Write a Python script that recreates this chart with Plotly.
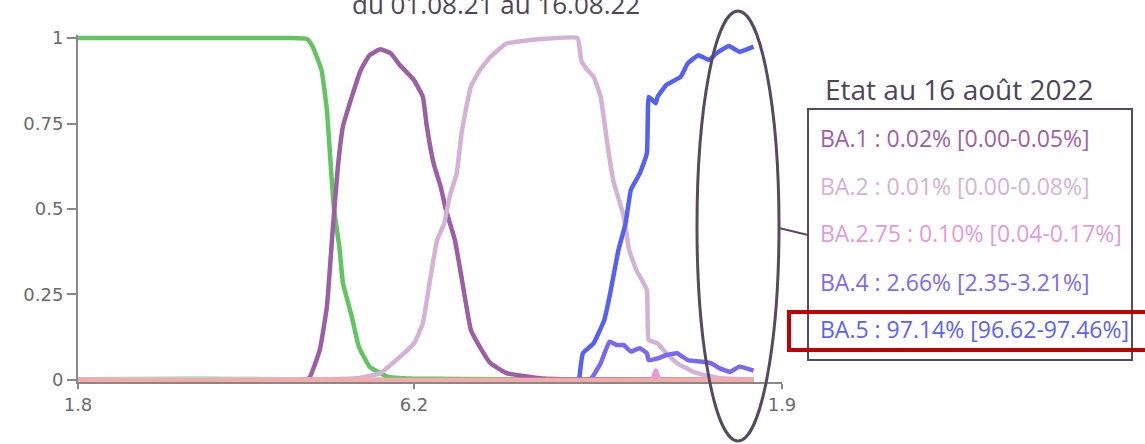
import plotly.graph_objects as go

# ---------------- data ----------------
delta_dates = ["2021-08-01", "2021-09-10", "2021-10-25", "2021-11-28", "2021-12-08", "2021-12-11",
               "2021-12-16", "2021-12-19", "2021-12-21", "2021-12-23", "2021-12-26", "2021-12-28",
               "2022-01-02", "2022-01-06", "2022-01-12", "2022-01-22", "2022-02-05", "2022-03-29",
               "2022-08-16"]
delta_vals = [1.0, 1.0, 1.0, 1.0, 0.997, 0.975,
              0.906, 0.79, 0.64, 0.50, 0.39, 0.285,
              0.185, 0.097, 0.039, 0.01, 0.004, 0.002,
              0.0]

ba1_dates = ["2021-08-01", "2021-12-04", "2021-12-09", "2021-12-15", "2021-12-19", "2021-12-22",
             "2021-12-25", "2021-12-28", "2022-01-02", "2022-01-07", "2022-01-12", "2022-01-18",
             "2022-01-24", "2022-01-29", "2022-02-06", "2022-02-11", "2022-02-13", "2022-02-17",
             "2022-02-21", "2022-02-24", "2022-03-01", "2022-03-05", "2022-03-10", "2022-03-15",
             "2022-03-21", "2022-03-30", "2022-04-18", "2022-05-10", "2022-08-16"]
ba1_vals = [0.0, 0.0, 0.005, 0.088, 0.214, 0.419,
            0.614, 0.741, 0.828, 0.906, 0.95, 0.967,
            0.955, 0.921, 0.877, 0.828, 0.75, 0.634,
            0.565, 0.497, 0.409, 0.292, 0.146, 0.097,
            0.049, 0.02, 0.005, 0.001, 0.0002]

ba2_dates = ["2021-08-01", "2022-01-05", "2022-01-18", "2022-01-27", "2022-02-06", "2022-02-11",
             "2022-02-15", "2022-02-19", "2022-02-23", "2022-02-26", "2022-03-02", "2022-03-05",
             "2022-03-10", "2022-03-15", "2022-03-21", "2022-03-30", "2022-04-18", "2022-05-09",
             "2022-05-11", "2022-05-14", "2022-05-18", "2022-05-22", "2022-05-26", "2022-05-29",
             "2022-06-04", "2022-06-07", "2022-06-11", "2022-06-17", "2022-06-18", "2022-06-23",
             "2022-06-28", "2022-07-04", "2022-07-13", "2022-07-23", "2022-07-28", "2022-08-16"]
ba2_vals = [0.0, 0.005, 0.02, 0.058, 0.107, 0.166,
            0.292, 0.409, 0.458, 0.536, 0.604, 0.731,
            0.858, 0.906, 0.945, 0.984, 0.997, 1.0,
            0.936, 0.91, 0.887, 0.828, 0.682, 0.585,
            0.478, 0.38, 0.322, 0.263, 0.117, 0.107,
            0.078, 0.049, 0.024, 0.01, 0.005, 0.001]

ba275_dates = ["2021-08-01", "2022-06-20", "2022-06-22", "2022-06-24", "2022-08-16"]
ba275_vals = [0.0, 0.002, 0.028, 0.002, 0.001]

ba4_dates = ["2022-05-17", "2022-05-22", "2022-05-27", "2022-05-31", "2022-06-04", "2022-06-08",
             "2022-06-13", "2022-06-17", "2022-06-18", "2022-06-23", "2022-06-28", "2022-07-04",
             "2022-07-10", "2022-07-17", "2022-07-23", "2022-07-28", "2022-08-03", "2022-08-08",
             "2022-08-16"]
ba4_vals = [0.005, 0.049, 0.112, 0.102, 0.102, 0.083,
            0.093, 0.078, 0.058, 0.063, 0.073, 0.078,
            0.058, 0.054, 0.049, 0.034, 0.024, 0.039,
            0.027]

ba5_dates = ["2022-05-10", "2022-05-12", "2022-05-18", "2022-05-24", "2022-05-27", "2022-06-01",
             "2022-06-05", "2022-06-08", "2022-06-13", "2022-06-17", "2022-06-18", "2022-06-20",
             "2022-06-22", "2022-06-23", "2022-06-28", "2022-07-06", "2022-07-10", "2022-07-16",
             "2022-07-22", "2022-07-26", "2022-08-02", "2022-08-08", "2022-08-16"]
ba5_vals = [0.005, 0.078, 0.107, 0.175, 0.244, 0.38,
            0.458, 0.556, 0.604, 0.663, 0.828, 0.819,
            0.809, 0.828, 0.863, 0.887, 0.926, 0.95,
            0.936, 0.955, 0.977, 0.96, 0.975]

other_dates = ["2021-08-01", "2021-09-05", "2021-10-10", "2021-11-15", "2021-12-20", "2022-01-10",
               "2022-02-01", "2022-08-16"]
other_vals = [0.004, 0.006, 0.007, 0.005, 0.004, 0.005, 0.002, 0.001]

base_dates = ["2021-08-01", "2022-08-16"]
base_vals = [0.0, 0.0]

tick_dates = ["2021-08-01", "2022-02-06", "2022-09-01"]
tick_labels = ["1.8", "6.2", "1.9"]
y_ticks = [0, 0.25, 0.5, 0.75, 1]
y_labels = ["0", "0.25", "0.5", "0.75", "1"]

title_text = "du 01.08.21 au 16.08.22"
box_title = "Etat au 16 août 2022"
box_lines = ["BA.1 : 0.02% [0.00-0.05%]",
             "BA.2 : 0.01% [0.00-0.08%]",
             "BA.2.75 : 0.10% [0.04-0.17%]",
             "BA.4 : 2.66% [2.35-3.21%]",
             "BA.5 : 97.14% [96.62-97.46%]"]
box_colors = ["#9d62a5", "#d2b3d6", "#e29cd8", "#7b6cf0", "#5a63f2"]

# ---------------- figure ----------------
W, H = 1145, 444
L, R, T, B = 78, 363, 35, 62
PW, PH = W - L - R, H - T - B


def px(x):
    return (x - L) / PW


def py(y):
    return (H - B - y) / PH


fig = go.Figure()
series = [
    (other_dates, other_vals, "#a6f0cc", 3),
    (delta_dates, delta_vals, "#62c462", 4.5),
    (ba1_dates, ba1_vals, "#9c5ea5", 4.5),
    (ba2_dates, ba2_vals, "#d4b2d6", 4.5),
    (ba275_dates, ba275_vals, "#e69ad9", 4.5),
    (ba4_dates, ba4_vals, "#7b68f0", 4.5),
    (ba5_dates, ba5_vals, "#5561f5", 4.5),
    (base_dates, base_vals, "#f5aaaa", 4.5),
]
for xs, ys, col, w in series:
    fig.add_trace(go.Scatter(x=xs, y=ys, mode="lines",
                             line=dict(color=col, width=w, shape="spline", smoothing=0.35),
                             hoverinfo="skip"))

ink = "#584a5e"
shapes = [
    dict(type="circle", xref="paper", yref="paper", x0=px(697), x1=px(779), y0=py(441), y1=py(11),
         line=dict(color=ink, width=3)),
    dict(type="line", xref="paper", yref="paper", x0=px(779), x1=px(808), y0=py(228), y1=py(235),
         line=dict(color=ink, width=2)),
    dict(type="rect", xref="paper", yref="paper", x0=px(808), x1=px(1132), y0=py(360), y1=py(109),
         line=dict(color=ink, width=2)),
    dict(type="rect", xref="paper", yref="paper", x0=px(789), x1=px(1152), y0=py(350), y1=py(312),
         line=dict(color="#c00000", width=4)),
]

annotations = [
    dict(text=title_text, xref="paper", yref="paper", x=px(496), y=py(4), xanchor="center",
         yanchor="middle", showarrow=False, font=dict(family="Open Sans", size=26, color="#4f4458")),
    dict(text=box_title, xref="paper", yref="paper", x=px(959), y=py(89), xanchor="center",
         yanchor="middle", showarrow=False, font=dict(family="Open Sans", size=28, color="#4f4458")),
]
line_y = [138, 186, 233, 282, 329]
for t, c, yy in zip(box_lines, box_colors, line_y):
    annotations.append(dict(text=t, xref="paper", yref="paper", x=px(818), y=py(yy),
                            xanchor="left", yanchor="middle", showarrow=False,
                            font=dict(family="Open Sans", size=23, color=c)))

fig.update_layout(
    width=W, height=H,
    margin=dict(l=L, r=R, t=T, b=B, pad=0),
    paper_bgcolor="white", plot_bgcolor="white",
    showlegend=False,
    shapes=shapes, annotations=annotations,
    font=dict(family="DejaVu Sans", size=18, color="#6a6a6a"),
    xaxis=dict(type="date", range=["2021-08-01", "2022-09-01"], tickvals=tick_dates, ticktext=tick_labels,
               ticks="outside", ticklen=5, tickwidth=1.5, tickcolor="#888", automargin=False,
               showline=True, linecolor="#888", linewidth=2, showgrid=False, zeroline=False),
    yaxis=dict(range=[-0.006, 1.009], tickvals=y_ticks, ticktext=y_labels,
               ticks="outside", ticklen=9, tickwidth=1.5, tickcolor="#888", automargin=False,
               showline=True, linecolor="#888", linewidth=2, showgrid=False, zeroline=False),
)

fig.write_html("out.html", config={"displayModeBar": False},
               post_script="document.body.style.margin='0px';document.body.style.overflow='hidden';")
